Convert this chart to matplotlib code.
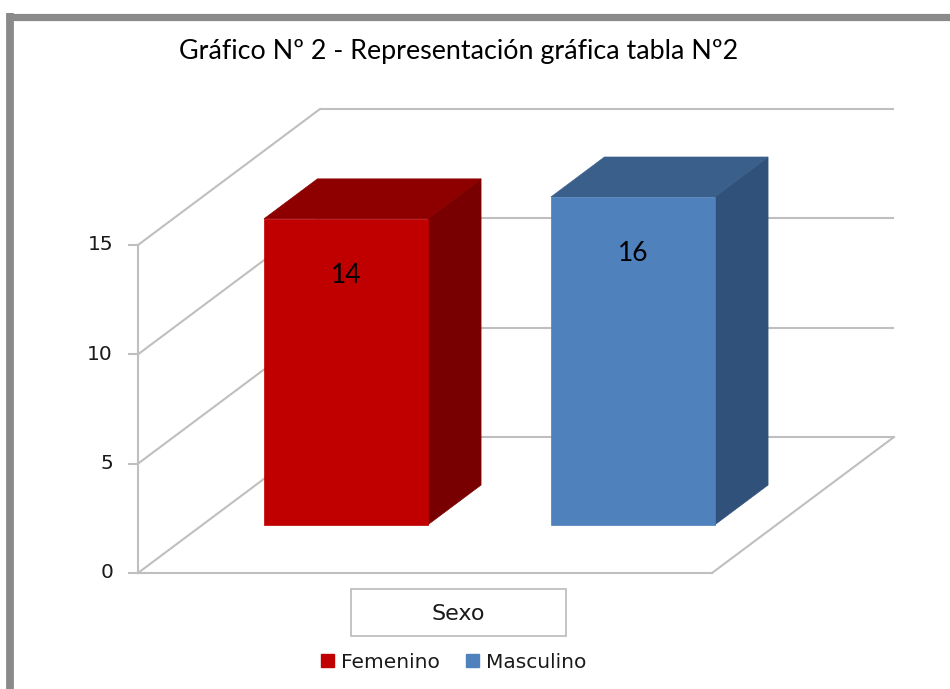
import numpy as np
import matplotlib
matplotlib.use("Agg")
import matplotlib.pyplot as plt
from matplotlib.patches import Polygon, Rectangle, Patch

# ---------------- data ----------------
title = "Gráfico Nº 2 - Representación gráfica tabla Nº2"
category = ["Sexo"]
series = ["Femenino", "Masculino"]
values = [14, 16]
colors_front = ["#C00000", "#4F81BD"]
colors_top = ["#8E0000", "#3B5F8B"]
colors_side = ["#780000", "#30527A"]
yticks = [0, 5, 10, 15]
ymax = 15

# ---------------- layout ----------------
W, H = 950, 689
fig = plt.figure(figsize=(9.5, 6.89), dpi=100, facecolor="white")

pix = fig.add_axes([0, 0, 1, 1])
pix.set_xlim(0, W)
pix.set_ylim(H, 0)
pix.axis("off")

# front-plane placement (pixels)
x0_px, x1_px = 138, 712
y0_px, ytop_px = 573, 245
xs = (x1_px - x0_px)
vs = (y0_px - ytop_px) / ymax

ax = fig.add_axes([0, 0, 1, 1])
ax.patch.set_visible(False)
ax.axis("off")
ax.set_xlim(-x0_px / xs, (W - x0_px) / xs)
ax.set_ylim(-(H - y0_px) / vs, y0_px / vs)

DX = 182 / xs     # oblique depth shift (x units)
DV = 136 / vs     # oblique depth shift (value units)


def P(x, v, z):
    return (x + z * DX, v + z * DV)


grid_c = "#BFBFBF"
glw = 1.5
txt_c = "#1a1a1a"

# back wall gridlines and left wall diagonals
for t in yticks:
    (a, b), (c, d) = P(0, t, 1), P(1, t, 1)
    ax.plot([a, c], [b, d], color=grid_c, lw=glw, zorder=1, solid_capstyle="butt")
    (a, b), (c, d) = P(0, t, 0), P(0, t, 1)
    ax.plot([a, c], [b, d], color=grid_c, lw=glw, zorder=1)
    ax.plot([-9 / xs, 0], [t, t], color=grid_c, lw=glw, zorder=1)
    ax.text(-25 / xs, t, str(t), ha="right", va="center", fontsize=14.5,
            color=txt_c, family="DejaVu Sans")

# left axis and floor edges
(a, b), (c, d) = P(0, 0, 0), P(0, ymax, 0)
ax.plot([a, c], [b, d], color=grid_c, lw=glw, zorder=1)
(a, b), (c, d) = P(0, 0, 0), P(1, 0, 0)
ax.plot([a, c], [b, d], color=grid_c, lw=glw, zorder=1)
(a, b), (c, d) = P(1, 0, 0), P(1, 0, 1)
ax.plot([a, c], [b, d], color=grid_c, lw=glw, zorder=1)

# bars
n = len(values)
bw = 0.285
zf, zb = 0.353, 0.647
for i, v in enumerate(values):
    xc = (i + 0.5) / n
    xl, xr = xc - bw / 2, xc + bw / 2
    hv = min(v, ymax)
    front = [P(xl, 0, zf), P(xr, 0, zf), P(xr, hv, zf), P(xl, hv, zf)]
    side = [P(xr, 0, zf), P(xr, 0, zb), P(xr, hv, zb), P(xr, hv, zf)]
    top = [P(xl, hv, zf), P(xr, hv, zf), P(xr, hv, zb), P(xl, hv, zb)]
    ax.add_patch(Polygon(side, closed=True, facecolor=colors_side[i],
                         edgecolor=colors_side[i], lw=0.5, zorder=3))
    ax.add_patch(Polygon(top, closed=True, facecolor=colors_top[i],
                         edgecolor=colors_top[i], lw=0.5, zorder=3))
    ax.add_patch(Polygon(front, closed=True, facecolor=colors_front[i],
                         edgecolor=colors_front[i], lw=0.5, zorder=4))
    lx, ly = P(xc, hv - 2.6, zf)
    ax.text(lx, ly, str(v), ha="center", va="center", fontsize=19,
            family="Lato", color="#000000", zorder=5)

# category label box
pix.add_patch(Rectangle((351, 589), 215, 47, facecolor="white",
                        edgecolor="#BFBFBF", lw=1.3))
pix.text(458, 614, category[0], ha="center", va="center", fontsize=16,
         family="DejaVu Sans", color=txt_c)

# legend
handles = [Patch(facecolor=colors_front[i], edgecolor=colors_front[i]) for i in range(n)]
fig.legend(handles, series, loc="center", bbox_to_anchor=(454 / W, 1 - 662 / H),
           ncol=2, frameon=False, handlelength=0.65, handleheight=0.65,
           handletextpad=0.35, columnspacing=1.3,
           prop={"family": "DejaVu Sans", "size": 14.5}, labelcolor=txt_c)

# border
bc = "#8A8A8A"
pix.plot([6, W], [16.5, 16.5], color=bc, lw=5.2, solid_capstyle="butt")
pix.plot([10, 10], [13, H], color=bc, lw=5.6, solid_capstyle="butt")

# title fitted to width
tt = fig.text(459 / W, 1 - 52 / H, title, ha="center", va="center",
              fontsize=18, family="Lato", color="#000000")
fig.canvas.draw()
r = fig.canvas.get_renderer()
wpx = tt.get_window_extent(r).width
tt.set_fontsize(18 * 558 / wpx)

fig.savefig("out.png", dpi=100, facecolor="white")
